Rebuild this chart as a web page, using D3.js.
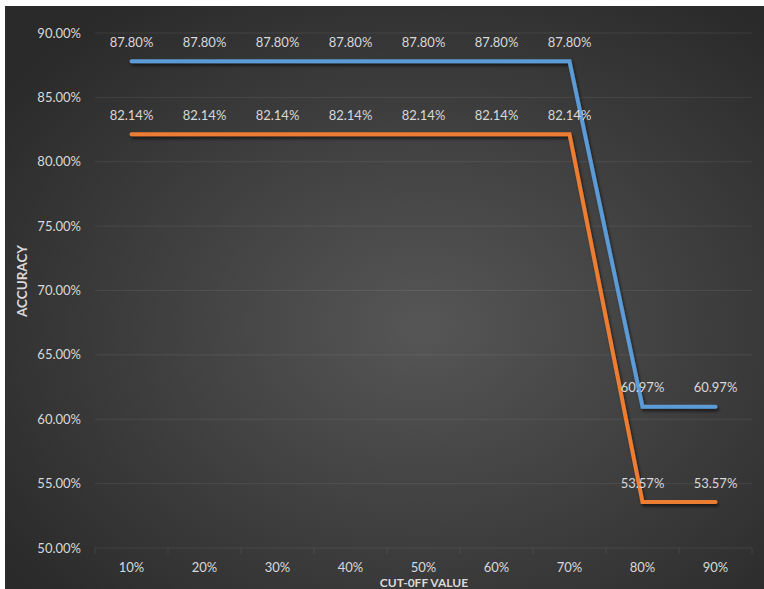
<!DOCTYPE html>
<html><head><meta charset="utf-8">
<script src="https://cdn.jsdelivr.net/npm/d3@7"></script>
<style>
html,body{margin:0;padding:0;background:#fff;}
svg{display:block;}
text{font-family:Lato,"Open Sans",sans-serif;}
</style></head>
<body>
<svg id="chart" width="764" height="589"></svg>
<script>
const categories = ["10%","20%","30%","40%","50%","60%","70%","80%","90%"];
const seriesBlue = [0.8780,0.8780,0.8780,0.8780,0.8780,0.8780,0.8780,0.6097,0.6097];
const seriesOrange = [0.8214,0.8214,0.8214,0.8214,0.8214,0.8214,0.8214,0.5357,0.5357];
const yTicks = [0.50,0.55,0.60,0.65,0.70,0.75,0.80,0.85,0.90];
const xTitle = "CUT-0FF VALUE";
const yTitle = "ACCURACY";

const svg = d3.select("#chart");
const defs = svg.append("defs");
const rg = defs.append("radialGradient").attr("id","bg")
  .attr("cx","55%").attr("cy","55%").attr("r","68%");
rg.append("stop").attr("offset","0%").attr("stop-color","#565656");
rg.append("stop").attr("offset","100%").attr("stop-color","#2a2a2a");
const f = defs.append("filter").attr("id","sh").attr("x","-10%").attr("y","-10%").attr("width","130%").attr("height","130%");
f.append("feDropShadow").attr("dx",1.5).attr("dy",2.5).attr("stdDeviation",1.8)
  .attr("flood-color","#000").attr("flood-opacity",0.6);

svg.append("rect").attr("x",5).attr("y",6).attr("width",759).attr("height",583).attr("fill","url(#bg)");

const x = d3.scaleBand().domain(categories).range([95,752]).padding(0);
const y = d3.scaleLinear().domain([0.5,0.9]).range([548,33]);
const cx = c => x(c) + x.bandwidth()/2;
const fmt = d3.format(".2%");

// gridlines
svg.append("g").selectAll("line").data(yTicks).join("line")
  .attr("x1",95).attr("x2",752).attr("y1",d=>y(d)).attr("y2",d=>y(d))
  .attr("stroke","#fff").attr("stroke-opacity",0.08).attr("stroke-width",1);

// x ticks at band boundaries
const bounds = categories.map(c=>x(c)).concat([x.range()[1]]);
svg.append("g").selectAll("line").data(bounds).join("line")
  .attr("x1",d=>d).attr("x2",d=>d).attr("y1",y(0.5)).attr("y2",y(0.5)+6)
  .attr("stroke","#fff").attr("stroke-opacity",0.08).attr("stroke-width",1);

// y labels
svg.append("g").selectAll("text").data(yTicks).join("text")
  .attr("x",81).attr("y",d=>y(d)).attr("dy","0.35em").attr("text-anchor","end")
  .attr("font-size",13).attr("fill","#d9d9d9").text(d=>fmt(d));

// x labels
svg.append("g").selectAll("text").data(categories).join("text")
  .attr("x",d=>cx(d)).attr("y",567).attr("dy","0.35em").attr("text-anchor","middle")
  .attr("font-size",13).attr("fill","#d9d9d9").text(d=>d);

// axis titles
svg.append("text").attr("x",424).attr("y",583).attr("dy","0.35em").attr("text-anchor","middle")
  .attr("font-family","'DejaVu Sans Condensed','DejaVu Sans',sans-serif").attr("font-weight","bold")
  .attr("font-size",12).attr("fill","#d9d9d9").text(xTitle);
svg.append("text").attr("transform","translate(22,281) rotate(-90)").attr("dy","0.35em").attr("text-anchor","middle")
  .attr("font-family","'DejaVu Sans Condensed','DejaVu Sans',sans-serif").attr("font-weight","bold")
  .attr("font-size",13.5).attr("fill","#d9d9d9").text(yTitle);

const line = d3.line().x((d,i)=>cx(categories[i])).y(d=>y(d));
[[seriesOrange,"#ed7d31"],[seriesBlue,"#5b9bd5"]].forEach(([s,col])=>{
  svg.append("path").datum(s).attr("d",line).attr("fill","none").attr("stroke",col)
    .attr("stroke-width",4).attr("stroke-linecap","round").attr("stroke-linejoin","miter")
    .attr("filter","url(#sh)");
});

[seriesBlue,seriesOrange].forEach(s=>{
  svg.append("g").selectAll("text").data(s).join("text")
    .attr("x",(d,i)=>cx(categories[i])).attr("y",d=>y(d)-19).attr("dy","0.35em")
    .attr("text-anchor","middle").attr("font-size",13).attr("fill","#d9d9d9")
    .text(d=>fmt(d));
});
</script>
</body></html>
